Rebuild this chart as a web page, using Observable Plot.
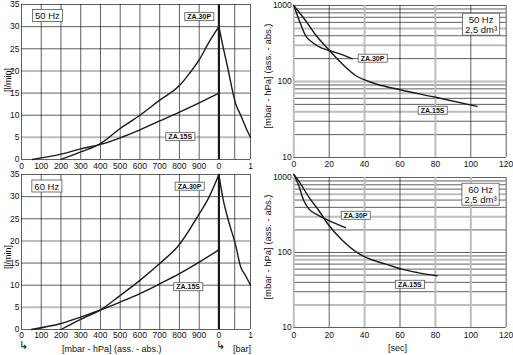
<!DOCTYPE html>
<html>
<head>
<meta charset="utf-8">
<script src="https://cdn.jsdelivr.net/npm/d3@7"></script>
<script src="https://cdn.jsdelivr.net/npm/@observablehq/plot@0.6"></script>
<style>
  html, body { margin: 0; padding: 0; background: #fff; }
  #wrap { position: relative; width: 513px; height: 355px; overflow: hidden; background: #fff;
          font-family: 'Liberation Sans', Arial, sans-serif; color: #111; }
  #wrap svg { position: absolute; overflow: visible; }
  .lab { position: absolute; white-space: nowrap; font-size: 9px; line-height: 1; }
  .rot { transform: translate(-50%, -50%) rotate(-90deg); }
</style>
</head>
<body>
<div id="wrap"></div>
<script>
// ---------- data ----------
const mbarTicks = [0, 100, 200, 300, 400, 500, 600, 700, 800, 900];
const barTicks = [0, 1];
const flowTicks = [0, 5, 10, 15, 20, 25, 30, 35];
const secTicks = [0, 20, 40, 60, 80, 100, 120];
const presTicks = [10, 100, 1000];

// 50 Hz flow vs pressure
const za30p50_mbar = [200, 300, 400, 500, 600, 700, 800, 850, 900, 950, 1000];
const za30p50_flow = [0, 1.7, 3.6, 7, 10, 13.4, 16.7, 19.4, 22.5, 26.5, 30];
const za30p50_bar = [0, 0.13, 0.27, 0.53, 0.69, 0.84, 1];
const za30p50_barFlow = [30, 25.5, 21, 12.6, 10, 7.4, 5];
const za15s50_mbar = [55, 200, 300, 400, 500, 600, 700, 800, 900, 1000];
const za15s50_flow = [0, 1.2, 2.4, 3.4, 4.9, 6.7, 8.7, 10.7, 12.8, 15];

// 60 Hz flow vs pressure
const za30p60_mbar = [200, 300, 400, 500, 600, 700, 800, 900, 950, 1000];
const za30p60_flow = [0, 2.3, 4.4, 7.7, 11.1, 14.9, 19.2, 26.1, 29.9, 35];
const za30p60_bar = [0, 0.13, 0.27, 0.53, 0.69, 0.84, 1];
const za30p60_barFlow = [35, 29.5, 25.4, 19, 14.1, 12.2, 10];
const za15s60_mbar = [50, 200, 300, 400, 500, 600, 700, 800, 900, 1000];
const za15s60_flow = [0, 1.35, 2.8, 4.4, 6.2, 8.1, 10.3, 12.6, 15.2, 18];

// 50 Hz pump-down (2,5 dm3)
const za30p50_sec = [0, 3.8, 6.6, 10.4, 14.1, 19.8, 27.3, 33];
const za30p50_pres = [1000, 574, 403, 329, 288, 256, 226, 199];
const za15s50_sec = [0, 6.6, 12.3, 19.8, 27.3, 34.9, 42.4, 47, 60, 80, 103.5];
const za15s50_pres = [1000, 635, 412, 261, 171, 120, 100, 92, 78, 62, 47];

// 60 Hz pump-down (2,5 dm3)
const za30p60_sec = [0, 2.8, 5.6, 8.5, 14.1, 19.9, 29.2];
const za30p60_pres = [1100, 780, 494, 382, 311, 267, 214];
const za15s60_sec = [0, 2.8, 8.5, 14.1, 19.9, 27.5, 37, 44, 52, 61, 70, 81];
const za15s60_pres = [1100, 900, 546, 363, 229, 145, 96, 80, 70, 60, 54, 49];

// grids
const flowGridBlack = [0, 10, 15, 25, 30, 35];
const flowGridGrey = [5, 20];
const mbarGrid = [0, 100, 200, 300, 400, 500, 600, 700, 800, 900];
const barGrid = [0.5, 1];
const logGrid = [10, 20, 30, 40, 50, 60, 70, 80, 90, 100, 200, 300, 400, 500, 600, 700, 800, 900, 1000];
const logGreyTop = [500, 300, 100, 70, 40];
const logGreyBottom = [600, 300, 80, 20];
const secGridBlack = [20, 60, 100, 120];
const secGridGreyTop = [0, 40, 80];
const secGridBlackBottom = [20, 60, 120];
const secGridGreyBottom = [0, 40, 80, 100];

// ---------- helpers ----------
const BAR_OFFSET = 1000, BAR_SPAN = 160; // bar section drawn to the right of 1000 mbar
const toBarX = b => BAR_OFFSET + b * BAR_SPAN;
const zip = (xs, ys) => xs.map((x, i) => ({x, y: ys[i]}));
const tickFont = "'Liberation Sans Narrow','Arial Narrow','Liberation Sans',Arial,sans-serif";
const BLACK = "#1a1a1a", GREY = "#bdbdbd";
const wrap = document.getElementById("wrap");

function place(svg, left, top) {
  svg.style.left = left + "px";
  svg.style.top = top + "px";
  wrap.appendChild(svg);
  // boxes behind the label texts
  svg.querySelectorAll("g.boxlbl text").forEach(t => {
    const b = t.getBBox();
    const r = document.createElementNS("http://www.w3.org/2000/svg", "rect");
    r.setAttribute("x", b.x - 2.5);
    r.setAttribute("y", b.y - 0.5);
    r.setAttribute("width", b.width + 5);
    r.setAttribute("height", b.height + 1);
    r.setAttribute("fill", "#fff");
    r.setAttribute("stroke", "#555");
    r.setAttribute("stroke-width", 0.8);
    if (t.getAttribute("transform")) r.setAttribute("transform", t.getAttribute("transform"));
    t.parentNode.insertBefore(r, t);
  });
}

function flowPlot(cfg) {
  const xTicks = mbarTicks.concat(barTicks.map(toBarX));
  return Plot.plot({
    width: 260, height: cfg.height,
    marginLeft: 21, marginRight: 10, marginTop: cfg.marginTop, marginBottom: cfg.height - cfg.marginTop - 155,
    x: {domain: [0, toBarX(1)]},
    y: {domain: [0, 35]},
    style: {fontFamily: tickFont, fontSize: "8.5px", background: "transparent", color: "#111"},
    marks: [
      Plot.ruleY(flowGridGrey, {stroke: GREY, strokeWidth: 2}),
      Plot.ruleY(flowGridBlack, {stroke: BLACK, strokeWidth: 0.7}),
      Plot.ruleX(mbarGrid, {stroke: BLACK, strokeWidth: 0.7}),
      Plot.ruleX(barGrid.map(toBarX), {stroke: BLACK, strokeWidth: 0.7}),
      Plot.ruleX([toBarX(0)], {stroke: BLACK, strokeWidth: 2.2}),
      Plot.line(zip(cfg.p30.mbar, cfg.p30.flow), {x: "x", y: "y", stroke: BLACK, strokeWidth: 1.4, curve: "monotone-x"}),
      Plot.line(zip(cfg.p30.bar.map(toBarX), cfg.p30.barFlow), {x: "x", y: "y", stroke: BLACK, strokeWidth: 1.4, curve: "monotone-x"}),
      Plot.line(zip(cfg.s15.mbar, cfg.s15.flow), {x: "x", y: "y", stroke: BLACK, strokeWidth: 1.4, curve: "monotone-x"}),
      Plot.axisX({ticks: xTicks, tickSize: 0, tickPadding: cfg.xPad, label: null,
        tickFormat: d => d >= BAR_OFFSET ? String((d - BAR_OFFSET) / BAR_SPAN) : String(d)}),
      Plot.axisY({ticks: flowTicks, tickSize: 0, tickPadding: 2, label: null}),
      Plot.text([cfg.hz], {x: "x", y: "y", text: "t", fontSize: 9.5, fontFamily: "'Liberation Sans',Arial,sans-serif", className: "boxlbl"}),
      Plot.text(cfg.names, {x: "x", y: "y", text: "t", fontSize: 7, fontWeight: "bold", fontFamily: "'Liberation Sans',Arial,sans-serif", className: "boxlbl"})
    ]
  });
}

function presPlot(cfg) {
  return Plot.plot({
    width: 253, height: cfg.height,
    marginLeft: 33.3, marginRight: 7.3, marginTop: cfg.marginTop, marginBottom: cfg.height - cfg.marginTop - cfg.inner,
    x: {domain: [0, 120]},
    y: {type: "log", domain: [10, 1000]},
    style: {fontFamily: tickFont, fontSize: "8.5px", background: "transparent", color: "#111"},
    marks: [
      Plot.ruleY(cfg.grey, {stroke: GREY, strokeWidth: 2}),
      Plot.ruleY(logGrid.filter(v => !cfg.grey.includes(v)), {stroke: BLACK, strokeWidth: 0.7}),
      Plot.ruleX(cfg.vGrey, {stroke: GREY, strokeWidth: 2}),
      Plot.ruleX(cfg.vBlack, {stroke: BLACK, strokeWidth: 0.7}),
      Plot.line(zip(cfg.p30.sec, cfg.p30.pres), {x: "x", y: "y", stroke: BLACK, strokeWidth: 1.4, curve: "monotone-x"}),
      Plot.line(zip(cfg.s15.sec, cfg.s15.pres), {x: "x", y: "y", stroke: BLACK, strokeWidth: 1.4, curve: "monotone-x"}),
      Plot.axisX({ticks: secTicks, tickSize: 0, tickPadding: cfg.xPad, label: null, tickFormat: d => String(d)}),
      Plot.axisY({ticks: presTicks, tickSize: 0, tickPadding: 2, label: null, tickFormat: d => String(d)}),
      Plot.text([cfg.hz], {x: "x", y: "y", text: "t", fontSize: 9.5, lineHeight: 1.05, fontFamily: "'Liberation Sans',Arial,sans-serif", className: "boxlbl"}),
      Plot.text(cfg.names, {x: "x", y: "y", text: "t", fontSize: 7, fontWeight: "bold", fontFamily: "'Liberation Sans',Arial,sans-serif", className: "boxlbl"})
    ]
  });
}

// ---------- panels ----------
place(flowPlot({
  height: 172, marginTop: 4, xPad: 3,
  p30: {mbar: za30p50_mbar, flow: za30p50_flow, bar: za30p50_bar, barFlow: za30p50_barFlow},
  s15: {mbar: za15s50_mbar, flow: za15s50_flow},
  hz: {x: 131, y: 32.4, t: "50 Hz"},
  names: [{x: 900, y: 32.2, t: "ZA.30P"}, {x: 804, y: 5.1, t: "ZA.15S"}]
}), 0, 0);

place(flowPlot({
  height: 173, marginTop: 4, xPad: 2,
  p30: {mbar: za30p60_mbar, flow: za30p60_flow, bar: za30p60_bar, barFlow: za30p60_barFlow},
  s15: {mbar: za15s60_mbar, flow: za15s60_flow},
  hz: {x: 128, y: 32.3, t: "60 Hz"},
  names: [{x: 851, y: 32.3, t: "ZA.30P"}, {x: 844, y: 9.6, t: "ZA.15S"}]
}), 0, 170);

place(presPlot({
  height: 171, marginTop: 5, inner: 152, xPad: 3,
  grey: logGreyTop, vGrey: secGridGreyTop, vBlack: secGridBlack,
  p30: {sec: za30p50_sec, pres: za30p50_pres},
  s15: {sec: za15s50_sec, pres: za15s50_pres},
  hz: {x: 105.8, y: 562, t: "50 Hz\n2,5 dm³"},
  names: [{x: 44.5, y: 201, t: "ZA.30P"}, {x: 78.4, y: 41.5, t: "ZA.15S"}]
}), 260, 0);

place(presPlot({
  height: 172, marginTop: 7, inner: 150, xPad: 4,
  grey: logGreyBottom, vGrey: secGridGreyBottom, vBlack: secGridBlackBottom,
  p30: {sec: za30p60_sec, pres: za30p60_pres},
  s15: {sec: za15s60_sec, pres: za15s60_pres},
  hz: {x: 105.5, y: 593, t: "60 Hz\n2,5 dm³"},
  names: [{x: 34.9, y: 311, t: "ZA.30P"}, {x: 65.6, y: 37.4, t: "ZA.15S"}]
}), 260, 170);

// ---------- axis titles ----------
function lab(text, x, y, rot, size) {
  const d = document.createElement("div");
  d.className = "lab" + (rot ? " rot" : "");
  d.textContent = text;
  d.style.left = x + "px";
  d.style.top = y + "px";
  if (size) d.style.fontSize = size + "px";
  if (!rot) d.style.transform = "translate(0,-50%)";
  wrap.appendChild(d);
}
lab("[l/min]", 8, 80, true);
lab("[l/min]", 8, 257, true);
lab("[mbar - hPa] (ass. - abs.)", 268, 76, true, 9.5);
lab("[mbar - hPa] (ass. - abs.)", 268, 247, true, 9.5);
lab("[mbar - hPa] (ass. - abs.)", 62, 349, false, 9);
lab("[bar]", 233, 349, false, 9);
lab("[sec]", 388, 348, false, 9);
lab("↳", 19, 345, false, 11);
lab("↳", 216, 345, false, 11);
</script>
</body>
</html>
